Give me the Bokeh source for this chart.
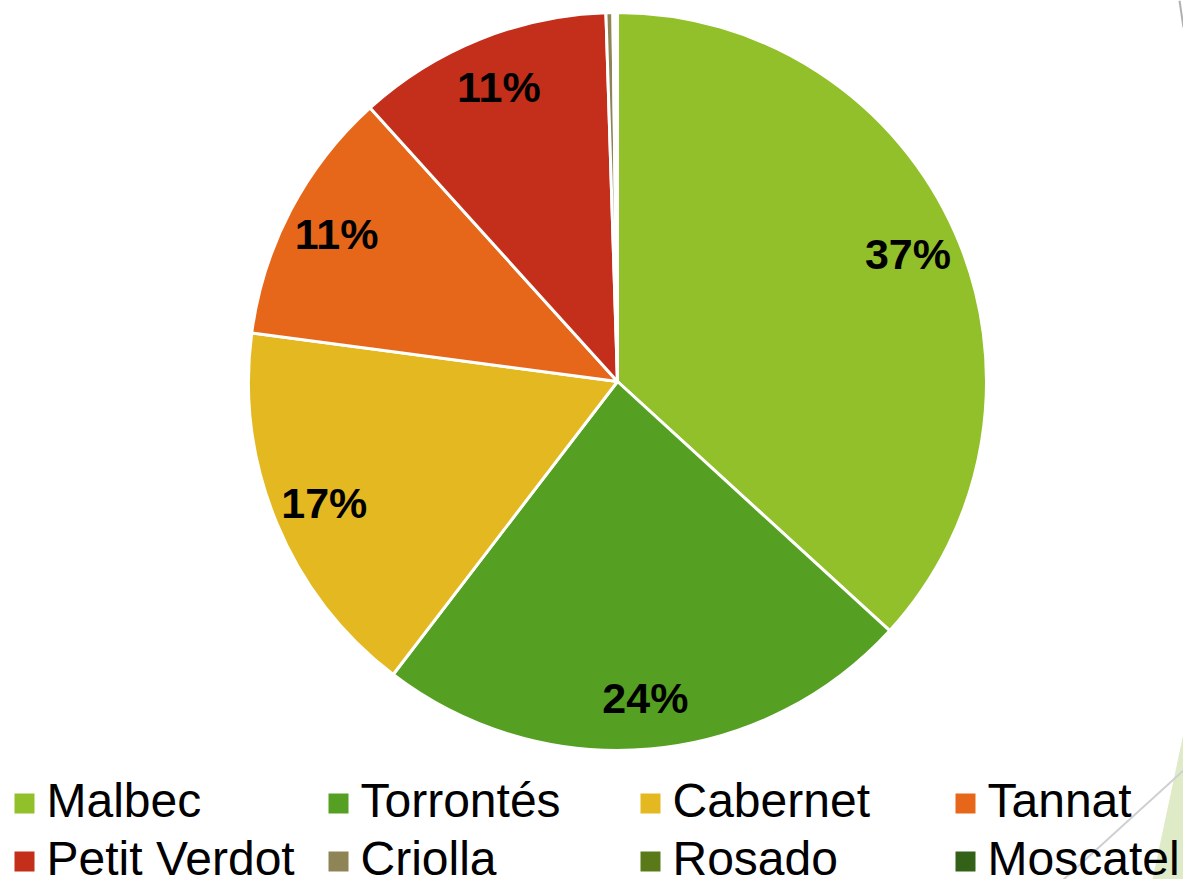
import math
from bokeh.plotting import figure
from bokeh.models import Range1d, ColumnDataSource
from bokeh.core.properties import value
from bokeh.embed import file_html
from bokeh.resources import INLINE

# ---- data ----
varieties = ["Malbec", "Torrontés", "Cabernet", "Tannat",
             "Petit Verdot", "Criolla", "Rosado", "Moscatel"]
shares = [36.8, 23.6, 16.7, 11.2, 11.2, 0.3, 0.1, 0.1]
colors = ["#92C02A", "#55A022", "#E4B820", "#E6671A",
          "#C42F1B", "#8E8455", "#5A7A1A", "#336118"]

W, H = 1183, 879
p = figure(width=W, height=H, output_backend="svg", toolbar_location=None,
           x_range=Range1d(0, W), y_range=Range1d(0, H), min_border=0)
p.axis.visible = False
p.grid.visible = False
p.outline_line_color = None
p.background_fill_color = "white"

# background decoration (slide theme)
p.patch([1152, W, W], [0, 146, 0], fill_color="#DEEBC6", line_color=None)
p.line([1063, W], [0, 109], line_color="#CFCFCF", line_width=2)
p.line([1179, W], [H, H - 27], line_color="#B0B0B0", line_width=2)

# pie
cx, cy, R = 617, H - 381, 369
total = sum(shares)
starts, ends, mids = [], [], []
acc = 0.0
for s in shares:
    a0 = acc / total
    acc += s
    a1 = acc / total
    starts.append(math.pi / 2 - a0 * 2 * math.pi)
    ends.append(math.pi / 2 - a1 * 2 * math.pi)
    mids.append(math.pi / 2 - (a0 + a1) / 2 * 2 * math.pi)

src = ColumnDataSource(dict(start=starts, end=ends, color=colors, name=varieties))
p.wedge(x=cx, y=cy, radius=R, start_angle="start", end_angle="end",
        direction="clock", fill_color="color", line_color="white",
        line_width=3, source=src)

# data labels
lx, ly, lt = [], [], []
for s, m in zip(shares, mids):
    pct = round(s / total * 100)
    if pct >= 1:
        rf = 0.86
        lx.append(cx + rf * R * math.cos(m))
        ly.append(cy + rf * R * math.sin(m))
        lt.append(f"{pct}%")
p.text(x=lx, y=ly, text=lt, text_align="center", text_baseline="middle",
       text_font=value("Liberation Sans"), text_font_style="bold",
       text_font_size="43px", text_color="black")

# legend (4 columns x 2 rows)
col_x = [14, 328, 640, 955]
row_mid = [H - 800, H - 858]
mx, my, tx, ty = [], [], [], []
for i, name in enumerate(varieties):
    c, r = i % 4, i // 4
    mx.append(col_x[c] + 10)
    my.append(row_mid[r] - 3)
    tx.append(col_x[c] + 32)
    ty.append(row_mid[r])
p.rect(x=mx, y=my, width=20, height=20, fill_color=colors, line_color=None)
p.text(x=tx, y=ty, text=varieties, text_align="left", text_baseline="middle",
       text_font=value("Liberation Sans"), text_font_size="48px", text_color="black")

open("out.html", "w").write(file_html(p, INLINE))
